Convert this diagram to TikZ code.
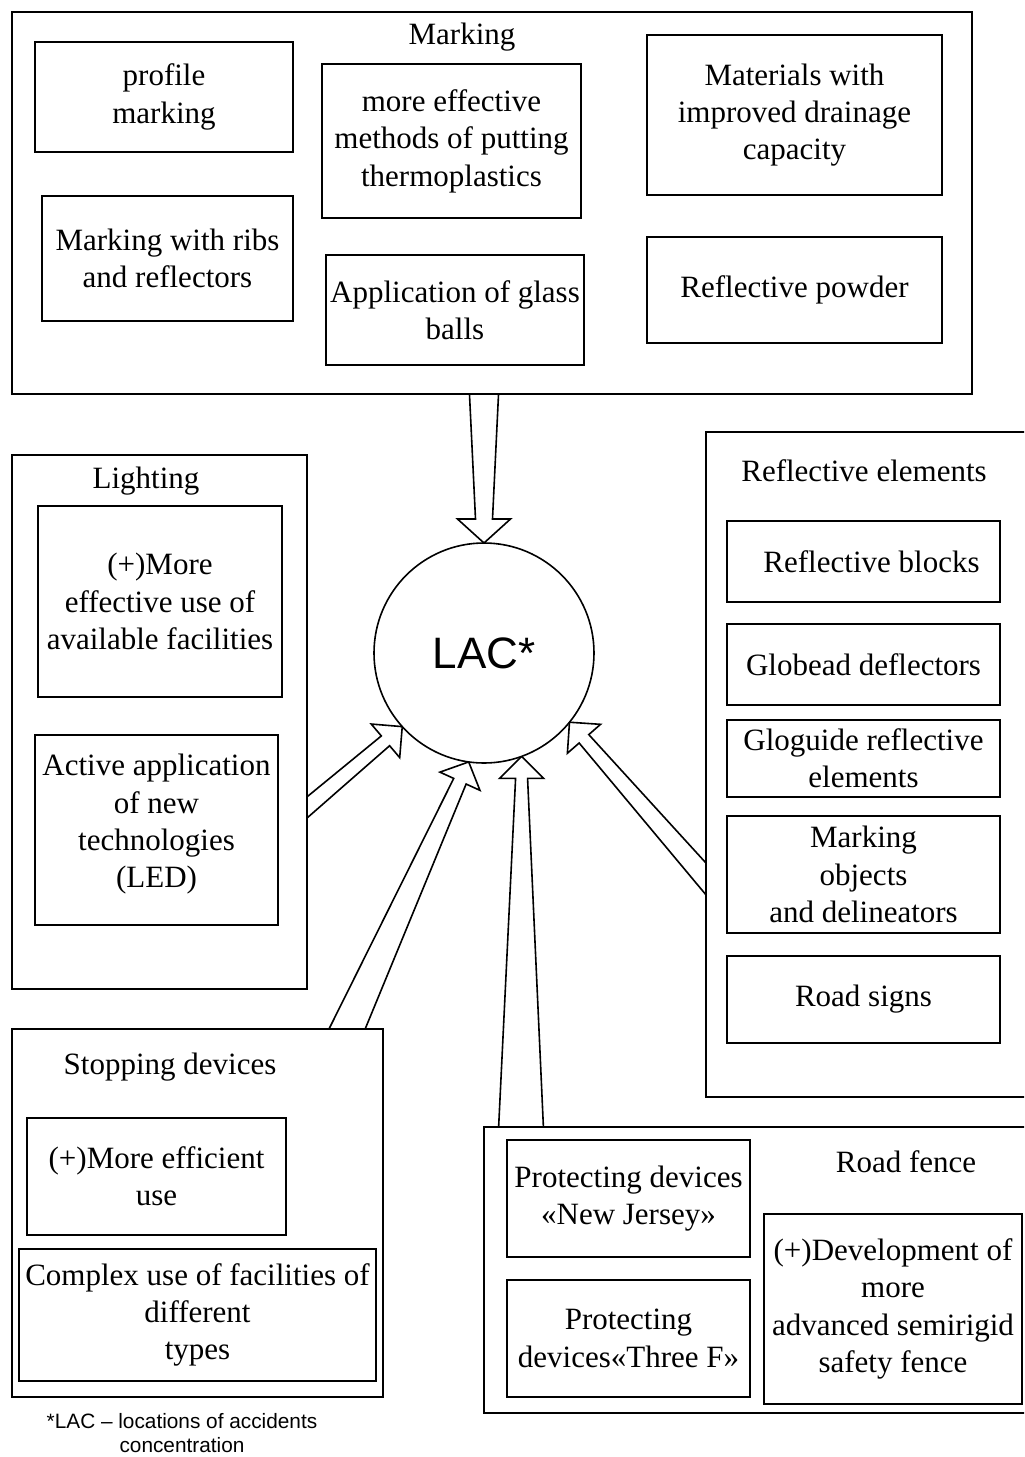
\documentclass[tikz,border=0pt]{standalone}
\usepackage{fontspec}
\setmainfont{Liberation Serif}
\newfontfamily\sansfnt{Liberation Sans}
\usepackage{tikz}
\usetikzlibrary{calc,positioning,shapes}
\pgfdeclarelayer{bg}
\pgfsetlayers{bg,main}

\tikzset{
  txt/.style={font=\fontsize{15.5}{18.7}\selectfont, align=center, inner sep=0pt},
  item/.style n args={2}{txt, draw, fill=white, line width=0.8pt, minimum width=#1*0.5pt, minimum height=#2*0.5pt},
  group/.style n args={2}{draw, fill=white, line width=0.8pt, minimum width=#1*0.5pt, minimum height=#2*0.5pt, inner sep=0pt},
  blockarr/.style={draw, fill=white, line width=0.8pt, line join=miter}
}

\newcommand{\blockarrow}[6]{%
  \coordinate (hb) at ($(#2)!#6!(#1)$);
  \draw[blockarr] ($(#1)!#3!90:(#2)$) -- ($(hb)!#4!90:(#2)$) -- ($(hb)!#5!90:(#2)$) -- (#2)
     -- ($(hb)!#5!-90:(#2)$) -- ($(hb)!#4!-90:(#2)$) -- ($(#1)!#3!-90:(#2)$) -- cycle;
}

\begin{document}
\begin{tikzpicture}[x=0.5pt, y=-0.5pt]
   \useasboundingbox (0, 0) rectangle (1024, 1457);
   \clip (0, 0) rectangle (1024, 1457);

         \node[group={960}{382}] (mark) at (492, 203) {};
             \node[txt] (marktitle) at (462, 37) {Marking};
             \node[item={258}{110}] (prof) at (164, 97) {profile\\marking};
             \node[item={259}{154}] (meth) at (451.5, 141) {more effective\\methods of putting\\thermoplastics};
             \node[item={295}{160}] (drain) at (794.5, 115) {Materials with\\improved drainage\\capacity};
             \node[item={251}{125}] (ribs) at (167.5, 258.5) {Marking with ribs\\and reflectors};
             \node[item={258}{110}] (glass) at (455, 310) {Application of glass\\balls};
             \node[item={295}{106}] (powder) at (794.5, 290) {Reflective powder};

         \node[group={295}{534}] (light) at (159.5, 722) {};
             \node[txt] (lighttitle) at (146, 481) {Lighting};
             \node[item={244}{191}] (facil) at (160, 601.5) {(+)More\\effective use of\\available facilities};
             \node[item={243}{190}, text depth=9pt] (led) at (156.5, 830) {Active application\\of new\\technologies\\(LED)};

         \node[group={334}{665}] (refl) at (873, 764.5) {};
             \node[txt] (refltitle) at (864, 471) {Reflective elements};
             \node[item={273}{81}] (blocks) at (863.5, 561.5) {\hspace{8pt}Reflective blocks};
             \node[item={273}{81}] (globead) at (863.5, 664.5) {Globead deflectors};
             \node[item={273}{77}] (gloguide) at (863.5, 758.5) {Gloguide reflective\\elements};
             \node[item={273}{117}] (delin) at (863.5, 874.5) {Marking\\objects\\and delineators};
             \node[item={273}{87}] (signs) at (863.5, 999.5) {Road signs};

         \node[group={371}{368}] (stop) at (197.5, 1213) {};
             \node[txt] (stoptitle) at (170, 1067) {Stopping devices};
             \node[item={259}{117}] (effuse) at (156.5, 1176.5) {(+)More efficient\\use};
             \node[item={357}{132}] (complex) at (197.5, 1315) {Complex use of facilities of\\different\\types};

         \node[group={556}{286}] (fence) at (762, 1270) {};
             \node[txt] (fencetitle) at (906, 1162) {Road fence};
             \node[item={243}{117}] (jersey) at (628.5, 1198.5) {Protecting devices\\«New Jersey»};
             \node[item={243}{117}] (threef) at (628.5, 1338.5) {Protecting\\devices«Three F»};
             \node[item={258}{190}] (semirigid) at (893, 1309) {(+)Development of\\more\\advanced semirigid\\safety fence};

   \node[circle, draw, fill=white, line width=0.8pt, minimum size=110pt, inner sep=0pt, outer sep=0pt,
         font=\sansfnt\fontsize{22}{26}\selectfont] (lac) at (484, 653) {LAC*};

   \node[font=\sansfnt\fontsize{10.4}{12}\selectfont, align=center, inner sep=0pt] (note) at (182, 1433)
        {*LAC – locations of accidents\\concentration};

   \coordinate (markout) at (484, 380);
   \coordinate (lightout) at (292, 820);
   \coordinate (stopout) at (341, 1043);
   \coordinate (fenceout) at (521, 1140);
   \coordinate (reflout) at (716, 890);

   \begin{pgfonlayer}{bg}
      \blockarrow{markout}{lac.north}{7.6pt}{4.25pt}{13.25pt}{12pt}
      \blockarrow{lightout}{lac.222}{4.2pt}{3.2pt}{11pt}{11pt}
      \blockarrow{stopout}{lac.262}{8.5pt}{3.4pt}{11pt}{10.6pt}
      \blockarrow{fenceout}{lac.290}{11.5pt}{3pt}{11pt}{11pt}
      \blockarrow{reflout}{lac.321}{5.4pt}{3.2pt}{11pt}{11pt}
   \end{pgfonlayer}

\end{tikzpicture}
\end{document}
